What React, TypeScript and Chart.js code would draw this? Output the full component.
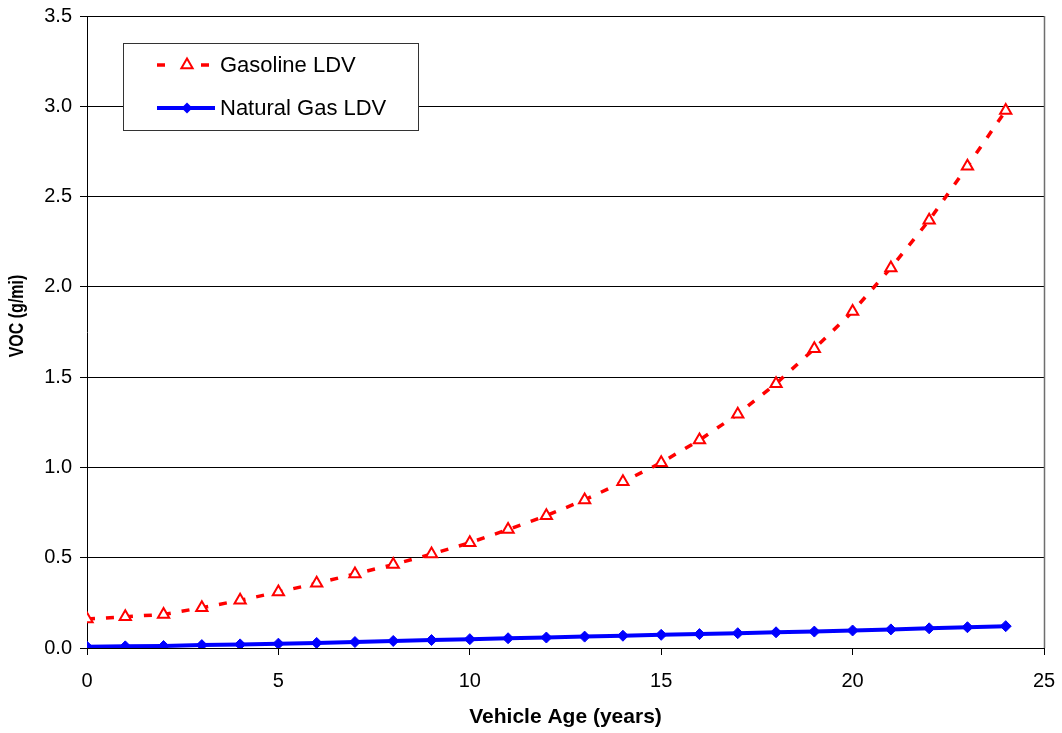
import React, { useEffect, useRef } from "react";
import { Chart, registerables } from "chart.js";

Chart.register(...registerables);

const ages: number[] = [0, 1, 2, 3, 4, 5, 6, 7, 8, 9, 10, 11, 12, 13, 14, 15, 16, 17, 18, 19, 20, 21, 22, 23, 24];
const gasolineLDV: number[] = [0.16, 0.173, 0.186, 0.223, 0.264, 0.31, 0.358, 0.41, 0.462, 0.52, 0.583, 0.656, 0.733, 0.82, 0.92, 1.026, 1.152, 1.295, 1.464, 1.657, 1.863, 2.105, 2.369, 2.668, 2.976];
const naturalGasLDV: number[] = [0.007, 0.009, 0.011, 0.016, 0.02, 0.024, 0.028, 0.033, 0.039, 0.044, 0.049, 0.054, 0.058, 0.063, 0.068, 0.073, 0.077, 0.082, 0.087, 0.091, 0.097, 0.103, 0.109, 0.115, 0.121];
const seriesNames: string[] = ["Gasoline LDV", "Natural Gas LDV"];
const xTitle = "Vehicle Age (years)";
const yTitle = "VOC (g/mi)";

const FONT = "'Liberation Sans', Arial, sans-serif";
const RED = "#FF0000";
const BLUE = "#0000FF";

const overlayPlugin = {
  id: "overlay",
  afterDraw(chart: any) {
    const ctx = chart.ctx as CanvasRenderingContext2D;
    const area = chart.chartArea;
    ctx.save();
    // right border of plot area
    ctx.strokeStyle = "#6e6e6e";
    ctx.lineWidth = 1.5;
    ctx.beginPath();
    ctx.moveTo(Math.round(area.right) + 0.5, area.top);
    ctx.lineTo(Math.round(area.right) + 0.5, area.bottom);
    ctx.stroke();

    // y title
    ctx.save();
    ctx.translate(17.5, 316);
    ctx.rotate(-Math.PI / 2);
    ctx.scale(0.8, 1);
    ctx.fillStyle = "#000";
    ctx.font = `bold 20px ${FONT}`;
    ctx.textAlign = "center";
    ctx.textBaseline = "middle";
    ctx.fillText(yTitle, 0, 0);
    ctx.restore();

    // legend box
    const bx = 123.5, by = 43.5, bw = 295, bh = 87;
    ctx.fillStyle = "#fff";
    ctx.fillRect(bx, by, bw, bh);
    ctx.strokeStyle = "#333";
    ctx.lineWidth = 1;
    ctx.strokeRect(bx, by, bw, bh);

    // gasoline entry
    const y1 = 65;
    ctx.strokeStyle = RED;
    ctx.lineWidth = 3.5;
    ctx.beginPath();
    ctx.moveTo(157, y1); ctx.lineTo(165, y1);
    ctx.moveTo(201, y1); ctx.lineTo(209, y1);
    ctx.stroke();
    const r = 6.5;
    const cx = 187;
    ctx.beginPath();
    ctx.moveTo(cx, y1 - r);
    ctx.lineTo(cx + r * Math.sin((2 * Math.PI) / 3), y1 + r / 2);
    ctx.lineTo(cx - r * Math.sin((2 * Math.PI) / 3), y1 + r / 2);
    ctx.closePath();
    ctx.fillStyle = "#fff";
    ctx.fill();
    ctx.lineWidth = 2;
    ctx.stroke();

    // natural gas entry
    const y2 = 108;
    ctx.strokeStyle = BLUE;
    ctx.lineWidth = 4;
    ctx.beginPath();
    ctx.moveTo(157, y2); ctx.lineTo(215, y2);
    ctx.stroke();
    const d = 5.5;
    ctx.beginPath();
    ctx.moveTo(cx, y2 - d);
    ctx.lineTo(cx + d, y2);
    ctx.lineTo(cx, y2 + d);
    ctx.lineTo(cx - d, y2);
    ctx.closePath();
    ctx.fillStyle = BLUE;
    ctx.fill();

    ctx.fillStyle = "#000";
    ctx.font = `22px ${FONT}`;
    ctx.textAlign = "left";
    ctx.textBaseline = "middle";
    ctx.fillText(seriesNames[0], 220, y1 + 1);
    ctx.fillText(seriesNames[1], 220, y2 + 1);
    ctx.restore();
  },
};

export default function App() {
  const canvasRef = useRef<HTMLCanvasElement | null>(null);

  useEffect(() => {
    document.body.style.margin = "0";
    const canvas = canvasRef.current;
    if (!canvas) return;
    const chart = new Chart(canvas, {
      type: "line",
      data: {
        datasets: [
          {
            label: seriesNames[0],
            data: ages.map((a, i) => ({ x: a, y: gasolineLDV[i] })),
            borderColor: RED,
            borderWidth: 3.5,
            borderDash: [8, 11],
            pointStyle: "triangle",
            pointRadius: 6.5,
            pointBorderWidth: 2,
            pointBorderColor: RED,
            pointBackgroundColor: "#fff",
            tension: 0,
            fill: false,
          },
          {
            label: seriesNames[1],
            data: ages.map((a, i) => ({ x: a, y: naturalGasLDV[i] })),
            borderColor: BLUE,
            borderWidth: 4,
            pointStyle: "rectRot",
            pointRadius: 5.5,
            pointBorderWidth: 1,
            pointBorderColor: BLUE,
            pointBackgroundColor: BLUE,
            tension: 0,
            fill: false,
          },
        ],
      },
      options: {
        responsive: false,
        animation: false,
        maintainAspectRatio: false,
        layout: { padding: { top: 16, right: 18, left: 0, bottom: 0 } },
        plugins: {
          legend: { display: false },
          tooltip: { enabled: false },
        },
        scales: {
          x: {
            type: "linear",
            min: 0,
            max: 25,
            ticks: {
              stepSize: 5,
              color: "#000",
              font: { family: FONT, size: 20 },
              padding: 14,
              maxRotation: 0,
            },
            grid: { drawOnChartArea: false, drawTicks: true, tickLength: 7, color: "#000" },
            border: { color: "#000", width: 1 },
            title: {
              display: true,
              text: xTitle,
              color: "#000",
              font: { family: FONT, size: 21, weight: "bold" },
              padding: { top: 0, bottom: 3 },
            },
            afterFit: (s: any) => {
              s.height = 85;
              s.paddingLeft = 0;
              s.paddingRight = 0;
            },
          },
          y: {
            min: 0,
            max: 3.5,
            ticks: {
              stepSize: 0.5,
              color: "#000",
              font: { family: FONT, size: 20 },
              padding: 8,
              callback: (v: any) => Number(v).toFixed(1),
            },
            grid: { color: "#000", lineWidth: 1, tickLength: 7 },
            border: { color: "#000", width: 1 },
            afterFit: (s: any) => {
              s.width = 87;
              s.paddingTop = 0;
              s.paddingBottom = 0;
            },
          },
        },
      },
      plugins: [overlayPlugin],
    });
    return () => chart.destroy();
  }, []);

  return (
    <div style={{ position: "absolute", left: 0, top: 0, width: 1062, height: 733, background: "#fff" }}>
      <canvas ref={canvasRef} width={1062} height={733} />
    </div>
  );
}
